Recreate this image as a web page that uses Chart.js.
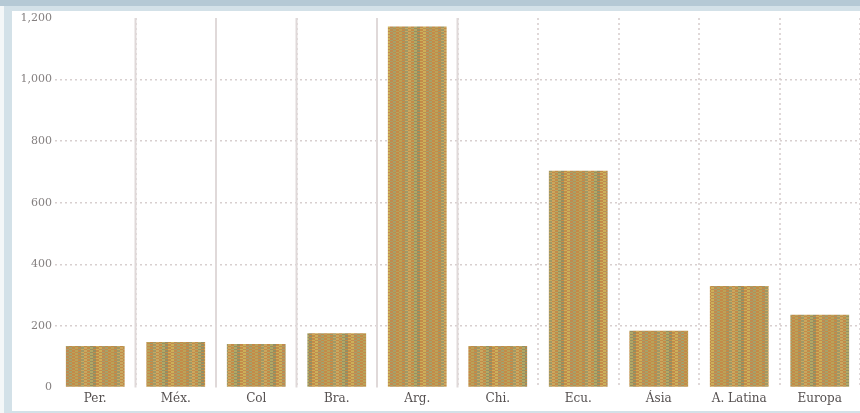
<!DOCTYPE html>
<html>
<head>
<meta charset="utf-8">
<script src="https://cdn.jsdelivr.net/npm/chart.js@4"></script>
<style>
    body { margin: 0; background: #ffffff; }
    #frame { position: absolute; left: 0; top: 0; width: 860px; height: 413px; background: #d3e1e8; overflow: hidden; }
    #topband { position: absolute; left: 0; top: 0; width: 860px; height: 6px; background: #b5c9d5; }
    #leftedge { position: absolute; left: 0; top: 6px; width: 4px; height: 407px; background: #f4f7f8; }
    #panel { position: absolute; left: 12px; top: 11px; width: 848px; height: 400px; background: #ffffff; }
    #wrap { position: absolute; left: 0; top: 0; width: 860px; height: 413px; }
</style>
</head>
<body>
<div id="frame">
    <div id="topband"></div>
    <div id="leftedge"></div>
    <div id="panel"></div>
</div>
<div id="wrap"><canvas id="chart" width="860" height="413"></canvas></div>
<script>
// Chart data
const categories = ['Per.', 'Méx.', 'Col', 'Bra.', 'Arg.', 'Chi.', 'Ecu.', 'Ásia', 'A. Latina', 'Europa'];
const values = [135, 148, 141, 176, 1172, 135, 704, 184, 330, 236];
const yTicks = [0, 200, 400, 600, 800, 1000, 1200];

// Striped fill that imitates the scanned bar texture
function makeBarPattern() {
    const stripes = ['#c48a48', '#b9a35a', '#c48a48', '#9f9866', '#c9a860', '#c48a48',
                     '#b3a865', '#948f62', '#c48a48', '#cbb05a', '#c08a50', '#a6a16a'];
    const c = document.createElement('canvas');
    c.width = stripes.length * 3;
    c.height = 9;
    const g = c.getContext('2d');
    for (let row = 0; row < 9; row++) {
        for (let i = 0; i < stripes.length; i++) {
            const col = stripes[(i + (row % 3 === 1 ? 1 : 0)) % stripes.length];
            g.fillStyle = col;
            g.fillRect(i * 3, row, 3, 1);
        }
    }
    return g.createPattern(c, 'repeat');
}

// Solid separators behind the first bars
const solidSeparators = {
    id: 'solidSeparators',
    beforeDatasetsDraw(chart) {
        const x = chart.scales.x;
        const area = chart.chartArea;
        const ctx = chart.ctx;
        ctx.save();
        ctx.strokeStyle = '#e0d9d9';
        ctx.lineWidth = 2;
        for (let i = 1; i <= 5; i++) {
            const px = (x.getPixelForValue(i - 1) + x.getPixelForValue(i)) / 2;
            ctx.beginPath();
            ctx.moveTo(px, area.top);
            ctx.lineTo(px, area.bottom);
            ctx.stroke();
        }
        ctx.restore();
    }
};

document.addEventListener('DOMContentLoaded', function() {
    const ctx = document.getElementById('chart');
    new Chart(ctx, {
        type: 'bar',
        data: {
            labels: categories,
            datasets: [{
                data: values,
                backgroundColor: makeBarPattern(),
                borderWidth: 0,
                categoryPercentage: 1,
                barPercentage: 0.73
            }]
        },
        options: {
            responsive: false,
            animation: false,
            layout: { padding: { top: 18, right: 0, bottom: 0, left: 0 } },
            plugins: {
                legend: { display: false },
                tooltip: { enabled: false }
            },
            scales: {
                x: {
                    offset: true,
                    afterFit: (s) => { s.height = 25.5; },
                    grid: {
                        offset: true,
                        drawTicks: false,
                        lineWidth: 2,
                        color: (c) => (c.index === 0 ? 'transparent' : '#e0d8d8')
                    },
                    border: { display: false, dash: [2, 3] },
                    ticks: {
                        padding: 4,
                        color: '#555050',
                        font: { family: 'DejaVu Serif', size: 12 }
                    }
                },
                y: {
                    min: 0,
                    max: 1200,
                    afterFit: (s) => { s.width = 55; },
                    afterBuildTicks: (s) => { s.ticks = yTicks.map(v => ({ value: v })); },
                    grid: {
                        drawTicks: false,
                        lineWidth: 1.5,
                        color: (c) => (c.index === 0 || c.index === yTicks.length - 1 ? 'transparent' : '#d8cfcf')
                    },
                    border: { display: false, dash: [2, 3] },
                    ticks: {
                        padding: 3,
                        color: '#858080',
                        font: { family: 'DejaVu Serif', size: 11 }
                    }
                }
            }
        },
        plugins: [solidSeparators]
    });
});
</script>
</body>
</html>
